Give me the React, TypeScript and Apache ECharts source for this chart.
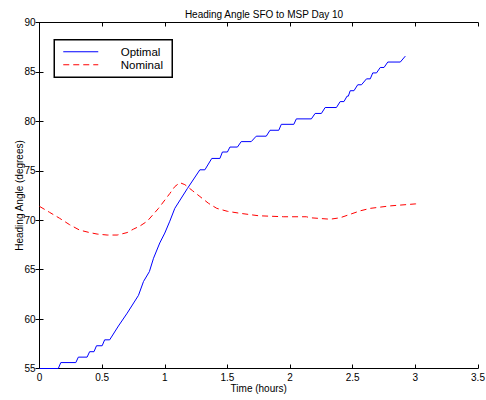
import React, { useEffect, useRef } from "react";
import * as echarts from "echarts";

const titleText = "Heading Angle SFO to MSP Day 10";
const xName = "Time (hours)";
const yName = "Heading Angle (degrees)";
const seriesNames = ["Optimal", "Nominal"];

const optimal: [number, number][] = [
  [0, 55], [0.15, 55], [0.17, 55.6], [0.29, 55.6], [0.31, 56.15], [0.38, 56.15],
  [0.4, 56.7], [0.435, 56.7], [0.455, 57.3], [0.5, 57.3], [0.52, 57.9], [0.56, 57.9],
  [0.63, 59.3], [0.7, 60.6], [0.79, 62.4], [0.83, 63.8], [0.877, 64.8], [0.91, 66.15],
  [0.96, 67.7], [1.0, 68.7], [1.04, 69.9], [1.08, 71.2], [1.18, 73.2], [1.28, 75.1],
  [1.32, 75.1], [1.375, 76.25], [1.44, 76.25], [1.46, 76.9], [1.5, 76.9], [1.52, 77.4],
  [1.58, 77.4], [1.61, 77.95], [1.69, 77.95], [1.73, 78.5], [1.81, 78.5], [1.84, 79.1],
  [1.91, 79.1], [1.93, 79.7], [2.03, 79.7], [2.05, 80.25], [2.17, 80.25], [2.2, 80.8],
  [2.25, 80.8], [2.28, 81.4], [2.37, 81.4], [2.4, 82.0], [2.43, 82.0], [2.455, 82.55],
  [2.465, 82.55], [2.48, 83.1], [2.51, 83.1], [2.54, 83.7], [2.57, 83.7], [2.61, 84.3],
  [2.64, 84.3], [2.66, 84.9], [2.69, 84.9], [2.72, 85.45], [2.75, 85.45], [2.78, 86.0],
  [2.88, 86.0], [2.92, 86.6],
];

const nominal: [number, number][] = [
  [0, 71.4], [0.08, 70.8], [0.16, 70.2], [0.24, 69.55], [0.32, 69.0], [0.4, 68.75],
  [0.46, 68.6], [0.54, 68.5], [0.62, 68.5], [0.7, 68.75], [0.75, 69.1], [0.8, 69.4],
  [0.86, 69.9], [0.95, 71.2], [1.04, 72.7], [1.08, 73.4], [1.12, 73.8], [1.16, 73.6],
  [1.22, 73.0], [1.28, 72.4], [1.35, 71.7], [1.415, 71.2], [1.5, 70.9], [1.6, 70.7],
  [1.75, 70.45], [1.95, 70.35], [2.13, 70.35], [2.16, 70.25], [2.32, 70.1], [2.4, 70.25],
  [2.48, 70.6], [2.56, 70.95], [2.64, 71.2], [2.8, 71.45], [3.0, 71.65], [3.02, 71.65],
];

const xMin = 0, xMax = 3.5, xStep = 0.5;
const yMin = 55, yMax = 90, yStep = 5;

const FONT = "'Liberation Sans', Arial, Helvetica, sans-serif";

export default function App() {
  const ref = useRef<HTMLDivElement>(null);
  useEffect(() => {
    document.body.style.margin = "0";
    const chart = echarts.init(ref.current!, null, { renderer: "svg" });
    const axisCommon = {
      axisLine: { show: true, lineStyle: { color: "#000", width: 1 } },
      axisTick: { show: true, inside: true, length: 4, lineStyle: { color: "#000" } },
      splitLine: { show: false },
    };
    chart.setOption({
      animation: false,
      backgroundColor: "#fff",
      textStyle: { fontFamily: FONT },
      title: {
        text: titleText,
        left: 259,
        top: 4,
        textAlign: "center",
        textStyle: { fontSize: 10, fontWeight: "normal", color: "#000", fontFamily: FONT },
      },
      grid: {
        left: 39.5, right: 8, top: 22.5, bottom: 31.5,
        containLabel: false, outerBoundsMode: "none",
      },
      xAxis: [
        {
          type: "value", min: xMin, max: xMax, interval: xStep, position: "bottom",
          name: xName, nameLocation: "middle", nameGap: 15, nameMoveOverlap: false,
          nameTextStyle: { fontSize: 10, color: "#000", fontFamily: FONT },
          axisLabel: { fontSize: 10, color: "#000", margin: 4, fontFamily: FONT },
          ...axisCommon,
        },
        {
          type: "value", min: xMin, max: xMax, interval: xStep, position: "top",
          axisLabel: { show: false },
          ...axisCommon,
        },
      ],
      yAxis: [
        {
          type: "value", min: yMin, max: yMax, interval: yStep, position: "left",
          name: yName, nameLocation: "middle", nameGap: 15, nameMoveOverlap: false,
          nameTextStyle: { fontSize: 10, color: "#000", fontFamily: FONT },
          axisLabel: { fontSize: 10, color: "#000", margin: 4, fontFamily: FONT },
          ...axisCommon,
        },
        {
          type: "value", min: yMin, max: yMax, interval: yStep, position: "right",
          axisLabel: { show: false },
          ...axisCommon,
        },
      ],
      series: [
        {
          name: seriesNames[0], type: "line", data: optimal, xAxisIndex: 0, yAxisIndex: 0,
          symbol: "none", lineStyle: { color: "#0000ff", width: 1 },
        },
        {
          name: seriesNames[1], type: "line", data: nominal, xAxisIndex: 0, yAxisIndex: 0,
          symbol: "none", lineStyle: { color: "#ff0000", width: 1, type: [6, 4] },
        },
      ],
      graphic: [
        {
          type: "group",
          left: 53.5,
          top: 39,
          children: [
            { type: "rect", shape: { x: 0, y: 0, width: 118, height: 37.5 }, style: { fill: "#fff", stroke: "#000", lineWidth: 1.5 } },
            { type: "line", shape: { x1: 9, y1: 12, x2: 44, y2: 12 }, style: { stroke: "#0000ff", lineWidth: 1 } },
            { type: "line", shape: { x1: 9, y1: 25, x2: 44, y2: 25 }, style: { stroke: "#ff0000", lineWidth: 1, lineDash: [6, 4] } },
            { type: "text", x: 66.5, y: 12.5, style: { text: seriesNames[0], fontSize: 11.5, fontFamily: FONT, fill: "#000", verticalAlign: "middle", align: "left" } },
            { type: "text", x: 66.5, y: 25.5, style: { text: seriesNames[1], fontSize: 11.5, fontFamily: FONT, fill: "#000", verticalAlign: "middle", align: "left" } },
          ],
        },
      ],
    });
    return () => chart.dispose();
  }, []);
  return <div ref={ref} style={{ width: 486, height: 400 }} />;
}
